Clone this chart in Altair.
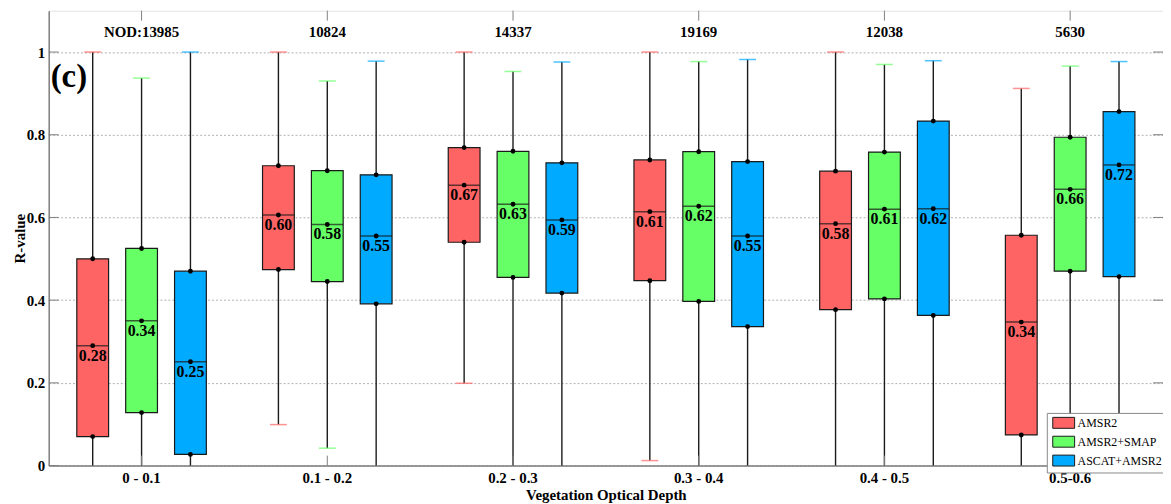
import altair as alt
import pandas as pd

# ---------------- data ----------------
groups = ["0 - 0.1", "0.1 - 0.2", "0.2 - 0.3", "0.3 - 0.4", "0.4 - 0.5", "0.5-0.6"]
nod_labels = ["NOD:13985", "10824", "14337", "19169", "12038", "5630"]
series = ["AMSR2", "AMSR2+SMAP", "ASCAT+AMSR2"]
colors = ["#FF6464", "#66FF66", "#00AAFF"]
panel_label = "(c)"
y_tick_values = [0, 0.2, 0.4, 0.6, 0.8, 1.0]

amsr2_hi = [1.0, 1.0, 1.0, 1.0, 1.0, 0.912]
amsr2_q3 = [0.500, 0.725, 0.769, 0.739, 0.712, 0.557]
amsr2_med = [0.290, 0.606, 0.678, 0.614, 0.585, 0.347]
amsr2_q1 = [0.070, 0.474, 0.540, 0.447, 0.377, 0.074]
amsr2_lo = [0.0, 0.099, 0.199, 0.012, 0.0, 0.0]
amsr2_lab = ["0.28", "0.60", "0.67", "0.61", "0.58", "0.34"]

smap_hi = [0.937, 0.930, 0.953, 0.977, 0.970, 0.966]
smap_q3 = [0.525, 0.713, 0.760, 0.759, 0.758, 0.794]
smap_med = [0.350, 0.583, 0.632, 0.627, 0.620, 0.668]
smap_q1 = [0.128, 0.445, 0.455, 0.397, 0.403, 0.470]
smap_lo = [0.0, 0.042, 0.0, 0.0, 0.0, 0.0]
smap_lab = ["0.34", "0.58", "0.63", "0.62", "0.61", "0.66"]

ascat_hi = [1.0, 0.978, 0.976, 0.982, 0.979, 0.977]
ascat_q3 = [0.470, 0.703, 0.732, 0.735, 0.833, 0.856]
ascat_med = [0.251, 0.555, 0.594, 0.555, 0.621, 0.727]
ascat_q1 = [0.027, 0.391, 0.417, 0.336, 0.363, 0.457]
ascat_lo = [0.0, 0.0, 0.0, 0.0, 0.0, 0.0]
ascat_lab = ["0.25", "0.55", "0.59", "0.55", "0.62", "0.72"]

stats = {
    "AMSR2": (amsr2_hi, amsr2_q3, amsr2_med, amsr2_q1, amsr2_lo, amsr2_lab),
    "AMSR2+SMAP": (smap_hi, smap_q3, smap_med, smap_q1, smap_lo, smap_lab),
    "ASCAT+AMSR2": (ascat_hi, ascat_q3, ascat_med, ascat_q1, ascat_lo, ascat_lab),
}

rows = []
for s in series:
    hi, q3, med, q1, lo, lab = stats[s]
    for i, g in enumerate(groups):
        rows.append(dict(group=g, series=s, hi=hi[i], q3=q3[i], med=med[i],
                         q1=q1[i], lo=lo[i], label=lab[i]))
df = pd.DataFrame(rows)
gdf = pd.DataFrame({"group": groups, "nod": nod_labels})
ydf = pd.DataFrame({"v": y_tick_values})
pdf = pd.DataFrame({"t": [panel_label]})

# ---------------- layout ----------------
W, H = 1122, 458
FONT = "Liberation Serif"

xscale = alt.Scale(domain=groups, paddingInner=0, paddingOuter=0)
xaxis = alt.Axis(title="Vegetation Optical Depth", labelAngle=0, ticks=False,
                 grid=False, labelPadding=5, titlePadding=2)
yscale = alt.Scale(domain=[0, 1.1], nice=False, zero=False)
yaxis = alt.Axis(title="R-value", values=y_tick_values, format="~g", ticks=False,
                 grid=True, labelPadding=4, titleX=-29, titleY=H / 2,
                 titleAngle=270, titleAlign="center", titleBaseline="middle")
xo = alt.XOffset("series:N", sort=series,
                 scale=alt.Scale(domain=series, paddingOuter=0.4, paddingInner=0))
cscale = alt.Scale(domain=series, range=colors)


def X():
    return alt.X("group:N", sort=groups, scale=xscale, axis=xaxis)


def Y(f):
    return alt.Y(f, scale=yscale, axis=yaxis)


base = alt.Chart(df)

whiskers = base.mark_rule(color="#1a1a1a", strokeWidth=1.4).encode(
    x=X(), xOffset=xo, y=Y("lo:Q"), y2="hi:Q")

boxes = base.mark_bar(size=32, stroke="#1a1a1a", strokeWidth=1.2, opacity=1).encode(
    x=X(), xOffset=xo, y=Y("q1:Q"), y2="q3:Q",
    color=alt.Color("series:N", sort=series, scale=cscale,
                    legend=alt.Legend(
                        orient="none", legendX=1005, legendY=405, title=None,
                        symbolType="M-2,-1H2V1H-2Z", symbolSize=121,
                        symbolStrokeColor="#1a1a1a", symbolStrokeWidth=1,
                        symbolOffset=7, labelOffset=8,
                        labelFont=FONT, labelFontSize=12, labelColor="black",
                        labelFontWeight="normal",
                        fillColor="white", strokeColor="#888888",
                        padding=4, rowPadding=3)))

caps_hi = base.mark_tick(size=17, thickness=1.5).encode(
    x=X(), xOffset=xo, y=Y("hi:Q"),
    color=alt.Color("series:N", sort=series, scale=cscale, legend=None))

caps_lo = base.transform_filter("datum.lo > 0").mark_tick(size=17, thickness=1.5).encode(
    x=X(), xOffset=xo, y=Y("lo:Q"),
    color=alt.Color("series:N", sort=series, scale=cscale, legend=None))

medians = base.mark_tick(size=32, thickness=1.5, color="#1a1a1a").encode(
    x=X(), xOffset=xo, y=Y("med:Q"))

dots = base.transform_fold(["q1", "med", "q3"], as_=["k", "v"]).mark_circle(
    size=24, color="black", opacity=1).encode(x=X(), xOffset=xo, y=Y("v:Q"))

labels = base.mark_text(dy=15, baseline="alphabetic", font=FONT, fontSize=16,
                        fontWeight="bold", color="black").encode(
    x=X(), xOffset=xo, y=Y("med:Q"), text="label:N")

nod = alt.Chart(gdf).mark_text(baseline="alphabetic", font=FONT, fontSize=15,
                               fontWeight="bold", color="black").encode(
    x=X(), y=alt.value(26), text="nod:N")

top_ticks = alt.Chart(gdf).mark_rule(color="#808080", strokeWidth=1).encode(
    x=X(), y=alt.value(0), y2=alt.value(10))
bot_ticks = alt.Chart(gdf).mark_rule(color="#808080", strokeWidth=1).encode(
    x=X(), y=alt.value(H), y2=alt.value(H - 10))

left_ticks = alt.Chart(ydf).mark_rule(color="#808080", strokeWidth=1).encode(
    y=Y("v:Q"), x=alt.value(0), x2=alt.value(10))
right_ticks = alt.Chart(ydf).mark_rule(color="#808080", strokeWidth=1).encode(
    y=Y("v:Q"), x=alt.value(W - 10), x2=alt.value(W))

panel = alt.Chart(pdf).mark_text(align="left", baseline="alphabetic", font=FONT,
                                 fontSize=33, fontWeight="bold", color="black").encode(
    x=alt.value(2), y=alt.value(77), text="t:N")

chart = alt.layer(
    whiskers, boxes, caps_hi, caps_lo, medians, dots, labels, nod,
    top_ticks, bot_ticks, left_ticks, right_ticks, panel
).properties(
    width=W, height=H,
    autosize=alt.AutoSizeParams(type="none"),
    padding={"left": 41, "top": 1, "right": 0, "bottom": 36},
).configure_view(
    stroke="#E3E3E3", strokeWidth=1
).configure_axis(
    domainColor="#7F7F7F", domainWidth=1.5,
    gridColor="#AFAFAF", gridDash=[2, 2], gridWidth=1,
    labelFont=FONT, labelFontSize=15, labelFontWeight="bold", labelColor="black",
    titleFont=FONT, titleFontSize=15, titleFontWeight="bold", titleColor="black",
)

chart.save("out.html", embed_options={"renderer": "svg", "actions": False})
